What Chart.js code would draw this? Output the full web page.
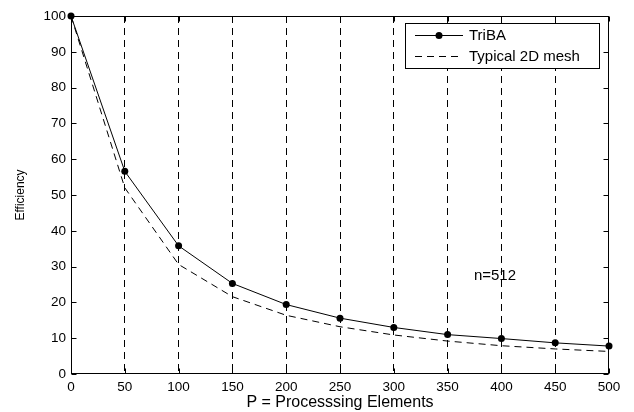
<!DOCTYPE html>
<html>
<head>
<meta charset="utf-8">
<script src="https://cdn.jsdelivr.net/npm/chart.js@4.4.1/dist/chart.umd.min.js"></script>
<style>
  html, body { margin: 0; padding: 0; background: #fff; }
  #wrap { width: 634px; height: 412px; }
</style>
</head>
<body>
<div id="wrap"><canvas id="chart" width="634" height="412"></canvas></div>
<script>
// processing elements (x axis)
const pe = [0, 50, 100, 150, 200, 250, 300, 350, 400, 450, 500];
// efficiency values
const triba = [100, 56.6, 35.8, 25.3, 19.4, 15.6, 13.0, 11.0, 9.9, 8.7, 7.8];
const mesh = [100, 52.0, 30.6, 21.6, 16.4, 13.2, 10.9, 9.2, 7.9, 7.0, 6.3];

const seriesNames = ["TriBA", "Typical 2D mesh"];
const note = { x: 394, y: 27.4, text: "n=512" };

const FONT = "'Liberation Sans', Arial, sans-serif";

// box, inward ticks, legend and the n=512 note (matlab look)
const matlabFrame = {
  id: "matlabFrame",
  afterDraw(chart) {
    const ctx = chart.ctx;
    const a = chart.chartArea;
    const xs = chart.scales.x;
    const ys = chart.scales.y;
    const L = Math.round(a.left) + 0.5, R = Math.round(a.right) - 0.5;
    const T = Math.round(a.top) + 0.5, B = Math.round(a.bottom) - 0.5;
    const tl = 5;

    ctx.save();
    ctx.strokeStyle = "#000";
    ctx.lineWidth = 1;
    ctx.setLineDash([]);
    ctx.strokeRect(L, T, R - L, B - T);

    ctx.beginPath();
    xs.ticks.forEach(t => {
      const px = Math.round(xs.getPixelForValue(t.value)) + 0.5;
      ctx.moveTo(px, B); ctx.lineTo(px, B - tl);
      ctx.moveTo(px, T); ctx.lineTo(px, T + tl);
    });
    ys.ticks.forEach(t => {
      const py = Math.round(ys.getPixelForValue(t.value)) + 0.5;
      ctx.moveTo(L, py); ctx.lineTo(L + tl, py);
      ctx.moveTo(R, py); ctx.lineTo(R - tl, py);
    });
    ctx.stroke();

    // legend
    const box = { x: 405.5, y: 23.5, w: 194, h: 45 };
    ctx.fillStyle = "#fff";
    ctx.fillRect(box.x, box.y, box.w, box.h);
    ctx.strokeRect(box.x, box.y, box.w, box.h);
    const rows = [35, 56];
    ctx.font = "15px " + FONT;
    ctx.textBaseline = "middle";
    ctx.textAlign = "left";
    chart.data.datasets.forEach((ds, i) => {
      const y = rows[i] + 0.5;
      ctx.beginPath();
      ctx.setLineDash(ds.borderDash || []);
      ctx.lineWidth = ds.borderWidth;
      ctx.strokeStyle = ds.borderColor;
      ctx.moveTo(415, y); ctx.lineTo(463, y);
      ctx.stroke();
      ctx.setLineDash([]);
      if (ds.pointRadius > 0) {
        ctx.beginPath();
        ctx.fillStyle = ds.pointBackgroundColor;
        ctx.arc(439, y, ds.pointRadius, 0, Math.PI * 2);
        ctx.fill();
      }
      ctx.fillStyle = "#000";
      ctx.fillText(ds.label, 469, rows[i] + 1);
    });

    // annotation
    ctx.font = "15px " + FONT;
    ctx.textAlign = "center";
    ctx.fillStyle = "#000";
    ctx.fillText(note.text, xs.getPixelForValue(note.x), ys.getPixelForValue(note.y));
    ctx.restore();
  }
};

new Chart(document.getElementById("chart"), {
  type: "line",
  data: {
    datasets: [
      {
        label: seriesNames[0],
        data: pe.map((p, i) => ({ x: p, y: triba[i] })),
        borderColor: "#000",
        borderWidth: 1,
        pointRadius: 3.5,
        pointBackgroundColor: "#000",
        pointBorderColor: "#000",
        pointBorderWidth: 0,
        tension: 0,
        clip: false
      },
      {
        label: seriesNames[1],
        data: pe.map((p, i) => ({ x: p, y: mesh[i] })),
        borderColor: "#000",
        borderWidth: 1,
        borderDash: [7, 5],
        pointRadius: 0,
        tension: 0,
        clip: false
      }
    ]
  },
  options: {
    responsive: false,
    animation: false,
    events: [],
    layout: { padding: { left: 0, top: 16, right: 25, bottom: 0 } },
    plugins: {
      legend: { display: false },
      tooltip: { enabled: false }
    },
    scales: {
      x: {
        type: "linear",
        min: 0,
        max: 500,
        afterFit: s => { s.height = 38; },
        ticks: {
          stepSize: 50,
          padding: 5,
          color: "#000",
          maxRotation: 0,
          font: { family: FONT, size: 13.5 }
        },
        grid: {
          drawTicks: false,
          lineWidth: 1,
          color: c => (c.tick && (c.tick.value === 0 || c.tick.value === 500)) ? "rgba(0,0,0,0)" : "#000"
        },
        border: { display: false, dash: [7, 5] },
        title: {
          display: true,
          text: "P = Processsing Elements",
          color: "#000",
          font: { family: FONT, size: 16 },
          padding: { top: 0, bottom: 0 }
        }
      },
      y: {
        type: "linear",
        min: 0,
        max: 100,
        afterFit: s => { s.width = 71; },
        ticks: {
          stepSize: 10,
          padding: 5,
          color: "#000",
          font: { family: FONT, size: 13.5 }
        },
        grid: { display: false, drawTicks: false },
        border: { display: false },
        title: {
          display: true,
          text: "Efficiency",
          color: "#000",
          font: { family: FONT, size: 12 },
          padding: { top: 13, bottom: 0 }
        }
      }
    }
  },
  plugins: [matlabFrame]
});
</script>
</body>
</html>
